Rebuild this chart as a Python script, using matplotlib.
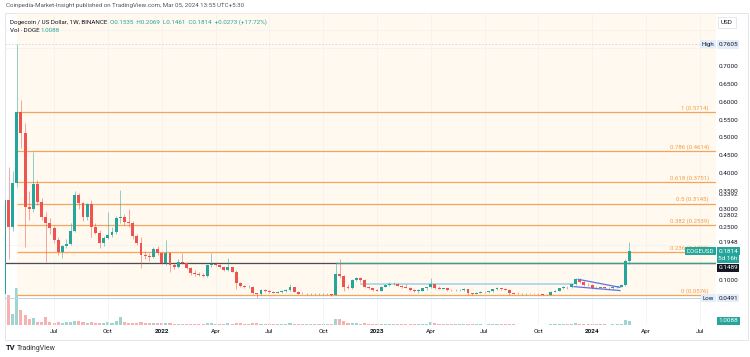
import matplotlib.pyplot as plt
from matplotlib.patches import Rectangle

plt.rcParams['font.family'] = ['Roboto', 'DejaVu Sans']

# DOGE/USD weekly candles (Binance), week 0 = 12 Apr 2021 ... week 151 = 4 Mar 2024
opens = [0.0600, 0.3250, 0.2490, 0.3720, 0.5720, 0.5110, 0.3060, 0.3000, 0.3690, 0.3200,
         0.2780, 0.2610, 0.2460, 0.2140, 0.1800, 0.1950, 0.2020, 0.2390, 0.3390, 0.3150,
         0.2780, 0.3130, 0.2500, 0.2330, 0.2030, 0.2190, 0.2280, 0.2360, 0.2730, 0.2780,
         0.2640, 0.2590, 0.2240, 0.2050, 0.1710, 0.1680, 0.1660, 0.1870, 0.1750, 0.1470,
         0.1750, 0.1430, 0.1380, 0.1520, 0.1470, 0.1330, 0.1210, 0.1180, 0.1140, 0.1120,
         0.1420, 0.1460, 0.1430, 0.1360, 0.1290, 0.1360, 0.1240, 0.0910, 0.0840, 0.0800,
         0.0810, 0.0630, 0.0600, 0.0725, 0.0700, 0.0680, 0.0650, 0.0680, 0.0700, 0.0725,
         0.0800, 0.0680, 0.0620, 0.0610, 0.0625, 0.0600, 0.0605, 0.0600, 0.0610, 0.0605,
         0.0585, 0.1170, 0.1120, 0.0820, 0.0770, 0.1010, 0.1050, 0.1010, 0.0820, 0.0770,
         0.0725, 0.0700, 0.0820, 0.0870, 0.0890, 0.0900, 0.0840, 0.0800, 0.0790, 0.0725,
         0.0700, 0.0710, 0.0770, 0.0800, 0.0890, 0.0780, 0.0755, 0.0770, 0.0725, 0.0720,
         0.0725, 0.0735, 0.0745, 0.0630, 0.0610, 0.0650, 0.0675, 0.0670, 0.0700, 0.0745,
         0.0775, 0.0745, 0.0730, 0.0630, 0.0615, 0.0610, 0.0605, 0.0610, 0.0615, 0.0610,
         0.0605, 0.0595, 0.0585, 0.0680, 0.0700, 0.0770, 0.0815, 0.0800, 0.0890, 0.1025,
         0.0960, 0.0870, 0.0860, 0.0790, 0.0775, 0.0800, 0.0775, 0.0770, 0.0815, 0.0820,
         0.0860, 0.1535]
highs = [0.3400, 0.4170, 0.4050, 0.7605, 0.6050, 0.5400, 0.3500, 0.4600, 0.3800, 0.3300,
         0.2900, 0.2750, 0.2520, 0.2200, 0.2000, 0.2150, 0.2600, 0.3510, 0.3450, 0.3200,
         0.3150, 0.3250, 0.2600, 0.2400, 0.2250, 0.2920, 0.2500, 0.2800, 0.3530, 0.2850,
         0.3000, 0.2650, 0.2300, 0.2200, 0.1820, 0.1750, 0.1920, 0.1950, 0.1800, 0.2130,
         0.1800, 0.1480, 0.1580, 0.1750, 0.1500, 0.1360, 0.1280, 0.1220, 0.1200, 0.1440,
         0.1750, 0.1520, 0.1460, 0.1400, 0.1630, 0.1380, 0.1280, 0.0950, 0.0870, 0.0860,
         0.0830, 0.0650, 0.0740, 0.0760, 0.0720, 0.0700, 0.0700, 0.0720, 0.0750, 0.0890,
         0.0820, 0.0700, 0.0660, 0.0650, 0.0640, 0.0630, 0.0630, 0.0640, 0.0630, 0.0620,
         0.1470, 0.1580, 0.1150, 0.0900, 0.1020, 0.1100, 0.1080, 0.1020, 0.0840, 0.0780,
         0.0740, 0.0840, 0.0890, 0.0950, 0.0940, 0.0930, 0.0870, 0.0880, 0.0800, 0.0760,
         0.0760, 0.0790, 0.0810, 0.1050, 0.0900, 0.0830, 0.0790, 0.0780, 0.0740, 0.0750,
         0.0760, 0.0770, 0.0760, 0.0650, 0.0660, 0.0690, 0.0690, 0.0710, 0.0760, 0.0820,
         0.0790, 0.0770, 0.0740, 0.0650, 0.0660, 0.0630, 0.0630, 0.0640, 0.0640, 0.0630,
         0.0620, 0.0610, 0.0690, 0.0720, 0.0790, 0.0830, 0.0840, 0.0900, 0.1060, 0.1070,
         0.0990, 0.0920, 0.0880, 0.0830, 0.0820, 0.0820, 0.0800, 0.0830, 0.0840, 0.0880,
         0.1590, 0.2069]
lows = [0.0576, 0.1600, 0.2370, 0.3600, 0.4700, 0.1940, 0.2700, 0.2900, 0.3100, 0.2700,
        0.1520, 0.2300, 0.2050, 0.1700, 0.1630, 0.1900, 0.2000, 0.2350, 0.3000, 0.2650,
        0.2700, 0.2200, 0.2300, 0.1900, 0.1950, 0.2150, 0.2200, 0.2300, 0.2600, 0.2550,
        0.2500, 0.2150, 0.2000, 0.1350, 0.1600, 0.1550, 0.1630, 0.1700, 0.1450, 0.1420,
        0.1240, 0.1320, 0.1350, 0.1450, 0.1300, 0.1150, 0.1120, 0.1110, 0.1080, 0.1100,
        0.1380, 0.1400, 0.1330, 0.1270, 0.1250, 0.1220, 0.0750, 0.0820, 0.0790, 0.0780,
        0.0620, 0.0491, 0.0590, 0.0680, 0.0640, 0.0630, 0.0640, 0.0650, 0.0680, 0.0700,
        0.0660, 0.0600, 0.0600, 0.0590, 0.0580, 0.0580, 0.0585, 0.0590, 0.0590, 0.0570,
        0.0580, 0.1050, 0.0700, 0.0760, 0.0750, 0.0970, 0.0950, 0.0780, 0.0740, 0.0700,
        0.0690, 0.0690, 0.0800, 0.0840, 0.0860, 0.0830, 0.0790, 0.0780, 0.0710, 0.0680,
        0.0650, 0.0700, 0.0720, 0.0790, 0.0760, 0.0740, 0.0740, 0.0710, 0.0700, 0.0700,
        0.0710, 0.0710, 0.0578, 0.0580, 0.0600, 0.0630, 0.0650, 0.0650, 0.0680, 0.0720,
        0.0730, 0.0720, 0.0590, 0.0610, 0.0600, 0.0590, 0.0595, 0.0600, 0.0600, 0.0590,
        0.0580, 0.0575, 0.0580, 0.0660, 0.0690, 0.0750, 0.0760, 0.0780, 0.0870, 0.0920,
        0.0850, 0.0840, 0.0760, 0.0760, 0.0770, 0.0760, 0.0760, 0.0760, 0.0790, 0.0800,
        0.0850, 0.1461]
closes = [0.3250, 0.2490, 0.3720, 0.5720, 0.5110, 0.3060, 0.3000, 0.3690, 0.3200, 0.2780,
          0.2610, 0.2460, 0.2140, 0.1800, 0.1950, 0.2020, 0.2390, 0.3390, 0.3150, 0.2780,
          0.3130, 0.2500, 0.2330, 0.2030, 0.2190, 0.2280, 0.2360, 0.2730, 0.2780, 0.2640,
          0.2590, 0.2240, 0.2050, 0.1710, 0.1680, 0.1660, 0.1870, 0.1750, 0.1470, 0.1750,
          0.1430, 0.1380, 0.1520, 0.1470, 0.1330, 0.1210, 0.1180, 0.1140, 0.1120, 0.1420,
          0.1460, 0.1430, 0.1360, 0.1290, 0.1360, 0.1240, 0.0910, 0.0840, 0.0800, 0.0810,
          0.0630, 0.0600, 0.0725, 0.0700, 0.0680, 0.0650, 0.0680, 0.0700, 0.0725, 0.0800,
          0.0680, 0.0620, 0.0610, 0.0625, 0.0600, 0.0605, 0.0600, 0.0610, 0.0605, 0.0585,
          0.1170, 0.1120, 0.0820, 0.0770, 0.1010, 0.1050, 0.1010, 0.0820, 0.0770, 0.0725,
          0.0700, 0.0820, 0.0870, 0.0890, 0.0900, 0.0840, 0.0800, 0.0790, 0.0725, 0.0700,
          0.0710, 0.0770, 0.0800, 0.0890, 0.0780, 0.0755, 0.0770, 0.0725, 0.0720, 0.0725,
          0.0735, 0.0745, 0.0630, 0.0610, 0.0650, 0.0675, 0.0670, 0.0700, 0.0745, 0.0775,
          0.0745, 0.0730, 0.0630, 0.0615, 0.0610, 0.0605, 0.0610, 0.0615, 0.0610, 0.0605,
          0.0595, 0.0585, 0.0680, 0.0700, 0.0770, 0.0815, 0.0800, 0.0890, 0.1025, 0.0960,
          0.0870, 0.0860, 0.0790, 0.0775, 0.0800, 0.0775, 0.0770, 0.0815, 0.0820, 0.0860,
          0.1541, 0.1814]
# weekly volume, billions of DOGE
volumes = [3.0, 7.5, 2.75, 9.2, 3.75, 2.5, 1.5, 1.75, 0.75, 0.7,
           2.0, 0.7, 0.6, 0.65, 0.6, 0.7, 0.8, 1.0, 0.9, 0.7,
           0.6, 0.8, 0.5, 0.6, 0.45, 0.8, 0.5, 1.0, 2.0, 0.75,
           0.6, 0.5, 0.45, 0.7, 0.45, 0.4, 0.45, 0.4, 0.45, 0.5,
           0.5, 0.35, 0.35, 0.35, 0.3, 0.35, 0.3, 0.3, 0.3, 0.4,
           0.45, 0.3, 0.25, 0.25, 0.5, 0.3, 0.6, 0.4, 0.3, 0.3,
           0.45, 0.55, 0.35, 0.3, 0.25, 0.22, 0.22, 0.22, 0.25, 0.4,
           0.35, 0.25, 0.2, 0.2, 0.2, 0.18, 0.18, 0.2, 0.18, 0.2,
           1.5, 1.5, 1.0, 0.5, 0.6, 0.6, 0.35, 0.4, 0.3, 0.25,
           0.22, 0.35, 0.3, 0.3, 0.35, 0.3, 0.25, 0.25, 0.3, 0.3,
           0.25, 0.25, 0.25, 0.8, 0.5, 0.25, 0.2, 0.2, 0.15, 0.15,
           0.15, 0.15, 0.3, 0.2, 0.15, 0.15, 0.12, 0.15, 0.2, 0.25,
           0.15, 0.15, 0.3, 0.15, 0.12, 0.12, 0.1, 0.12, 0.1, 0.1,
           0.1, 0.12, 0.3, 0.25, 0.3, 0.3, 0.25, 0.3, 0.45, 0.35,
           0.3, 0.2, 0.25, 0.2, 0.15, 0.15, 0.12, 0.15, 0.15, 0.2,
           1.2, 1.0088]

fib_ratios = ["1", "0.786", "0.618", "0.5", "0.382", "0.236", "0"]
fib_prices = [0.5714, 0.4614, 0.3751, 0.3145, 0.2539, 0.1789, 0.0576]
fib_start = 3  # week of 3 May 2021

# first week of each month / year on the time axis
month_weeks = [12, 25, 38, 51, 64, 77, 90, 103, 116, 129, 142, 155, 168]
month_labels = ["Jul", "Oct", "2022", "Apr", "Jul", "Oct", "2023", "Apr", "Jul", "Oct", "2024", "Apr", "Jul"]

price_ticks = [0.10, 0.25, 0.30, 0.35, 0.40, 0.45, 0.50, 0.55, 0.60, 0.65, 0.70]
extra_prices = [0.3392, 0.2802, 0.1948]

hline_price = 0.1489
hline_teal_from = 80
support_weeks = [86, 137.5]
support_price = 0.090
wedge_top_w, wedge_top_p = [138.6, 148.7], [0.1025, 0.0800]
wedge_bot_w, wedge_bot_p = [137.6, 148.7], [0.0820, 0.0710]

UP, DOWN = '#26a69a', '#ef5350'
ORANGE = '#f6a45c'
TXT = '#131722'

W, H = 750, 357
fig = plt.figure(figsize=(W / 100, H / 100), dpi=100)


def frame(x0, y0, x1, y1):
    return [x0 / W, 1 - y1 / H, (x1 - x0) / W, (y1 - y0) / H]


ax = fig.add_axes(frame(5, 13, 716, 325))
vax = ax.twinx()
ax.set_zorder(vax.get_zorder() + 1)
ax.patch.set_visible(False)
vax.patch.set_facecolor('white')

x0, x1 = 0.15, 171.9
ax.set_xlim(x0, x1)
ax.set_ylim(-0.0255, 0.8485)

weeks = list(range(len(closes)))
colors = [UP if c >= o else DOWN for o, c in zip(opens, closes)]

# volume overlay
vax.bar(weeks, volumes, 0.75, color=colors, alpha=0.45, lw=0)
vax.set_ylim(0, max(volumes) * 8.5)
vax.set_yticks([])
for a in (ax, vax):
    for s in a.spines.values():
        s.set_visible(False)

# background tint of the fib tool and grid
ax.add_patch(Rectangle((fib_start, fib_prices[-1]), x1 - fib_start, 0.8485 - fib_prices[-1],
                       color='#fff3df', alpha=0.45, lw=0, zorder=0))
ax.set_yticks([i * 0.05 for i in range(1, 17)], minor=True)
ax.grid(True, which='minor', axis='y', color='#f1f1f1', lw=0.5)
ax.grid(True, which='major', axis='x', color='#f1f1f1', lw=0.5)

# candles
bottoms = [min(o, c) for o, c in zip(opens, closes)]
heights = [max(abs(c - o), 0.0012) for o, c in zip(opens, closes)]
ax.vlines(weeks, lows, highs, colors=colors, lw=0.6, alpha=0.6, zorder=4)
ax.bar(weeks, heights, 0.7, bottoms, color=colors, lw=0, zorder=5)

# fibonacci retracement
ax.hlines(fib_prices, fib_start, x1, colors=ORANGE, lw=0.9, zorder=3)
for r, p in zip(fib_ratios, fib_prices):
    ax.annotate(f"{r} ({p:.4f})", xy=(170.2, p), xytext=(0, 1), textcoords='offset points',
                ha='right', va='bottom', color='#f29d45', fontsize=4.3, zorder=6)

# drawings
ax.axhline(max(highs), color='#c9d9e8', lw=0.6, ls=(0, (2, 2)), zorder=2)
ax.axhline(min(lows), color='#bcd7ea', lw=0.7, zorder=2)
ax.axhline(hline_price, color='#4d4d4d', lw=0.9, zorder=3)
ax.hlines(hline_price, hline_teal_from, x1, colors='#3f9b8d', lw=0.9, zorder=3)
ax.hlines(support_price, *support_weeks, colors='#a9d8ea', lw=1.3, zorder=3)
ax.plot(wedge_top_w, wedge_top_p, color='#5d74df', lw=0.9, zorder=6)
ax.plot(wedge_bot_w, wedge_bot_p, color='#5d74df', lw=0.9, zorder=6)

# axes ticks
ax.yaxis.tick_right()
ax.set_yticks(price_ticks, [f"{v:.4f}" for v in price_ticks])
ax.tick_params(axis='y', which='both', length=0, pad=2, labelsize=4.6, labelcolor=TXT)
ax.set_xticks(month_weeks, month_labels)
ax.tick_params(axis='x', length=0, pad=3, labelsize=4.6, labelcolor=TXT)
for lab in ax.get_xticklabels():
    if lab.get_text().startswith('20'):
        lab.set_fontweight('bold')


def axis_label(y, text, fc=None, tc=TXT, dy=0, axes=ax):
    box = dict(boxstyle='square,pad=0.25', fc=fc, ec='none') if fc else dict(boxstyle='square,pad=0.1', fc='white', ec='none')
    axes.annotate(text, xy=(1, y), xycoords=('axes fraction', 'data'), xytext=(1.6, dy),
                  textcoords='offset points', ha='left', va='center', fontsize=4.6, color=tc,
                  bbox=box, annotation_clip=False, zorder=10)


def tag(y, text, fc, tc):
    ax.annotate(text, xy=(1, y), xycoords=('axes fraction', 'data'), xytext=(-1.2, 0),
                textcoords='offset points', ha='right', va='center', fontsize=4.4, color=tc,
                bbox=dict(boxstyle='square,pad=0.25', fc=fc, ec='none'), annotation_clip=False, zorder=10)


axis_label(extra_prices[0], f"{extra_prices[0]:.4f}")
axis_label(extra_prices[1], f"{extra_prices[1]:.4f}")
axis_label(extra_prices[2], f"{extra_prices[2]:.4f}", dy=2.7)
axis_label(max(highs), f"{max(highs):.4f}", fc='#e3eefa')
tag(max(highs), "High", '#e3eefa', TXT)
axis_label(closes[-1], f"{closes[-1]:.4f}", fc=UP, tc='white')
axis_label(closes[-1], "5d 16h", fc=UP, tc='white', dy=-5.6)
tag(closes[-1], "DOGEUSD", UP, 'white')
axis_label(hline_price, f"{hline_price:.4f}", fc='#131722', tc='white', dy=-3.6)
axis_label(min(lows), f"{min(lows):.4f}", fc='#e3eefa')
tag(min(lows), "Low", '#e3eefa', TXT)
axis_label(volumes[-1], f"{volumes[-1]:.4f}", fc=UP, tc='white', axes=vax)

# chart frame and headers
fig.add_artist(Rectangle((5 / W, 1 - 340 / H), 743 / W, 327 / H, transform=fig.transFigure,
                         fill=False, ec='#e3e5ea', lw=0.7))
fig.text(6 / W, 1 - 6 / H, "Coinpedia-Market-Insight published on TradingView.com, Mar 05, 2024 13:55 UTC+5:30",
         fontsize=4.4, color='#555555', va='center')
fig.text(10 / W, 1 - 22.5 / H, "Dogecoin / US Dollar, 1W, BINANCE", fontsize=4.5, color=TXT, va='center')
fig.text(110 / W, 1 - 22.5 / H, "O0.1535  H0.2069  L0.1461  C0.1814  +0.0273 (+17.72%)",
         fontsize=4.5, color=UP, va='center')
fig.text(10 / W, 1 - 30.5 / H, "Vol · DOGE", fontsize=4.5, color=TXT, va='center')
fig.text(41 / W, 1 - 30.5 / H, "1.0088", fontsize=4.5, color=UP, va='center')
fig.text(727 / W, 1 - 22.5 / H, "USD", fontsize=4.6, color=TXT, va='center', ha='center',
         bbox=dict(boxstyle='square,pad=0.5', fc='white', ec='#e0e3eb', lw=0.6))
fig.text(6 / W, 1 - 348 / H, "TV", fontsize=5.5, fontweight='bold', color=TXT, va='center')
fig.text(17 / W, 1 - 348 / H, "TradingView", fontsize=5, color='#333333', va='center')

fig.savefig('out.png', dpi=100, facecolor='white')
